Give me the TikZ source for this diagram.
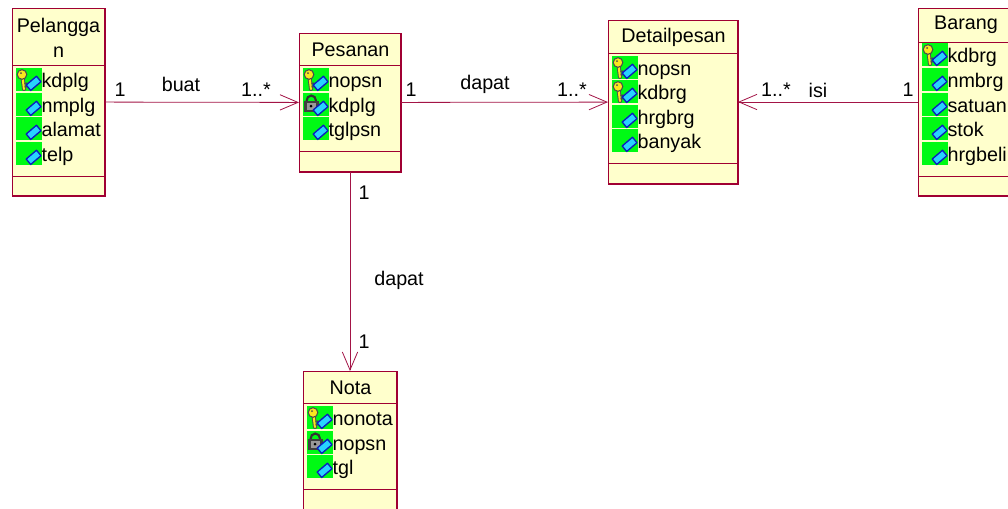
\documentclass[tikz,border=0pt]{standalone}
\usepackage{fontspec}
\setmainfont{Liberation Sans}
\usepackage{xcolor}
\definecolor{uml-line}{RGB}{163, 20, 70}
\definecolor{uml-edge}{RGB}{160, 0, 50}
\definecolor{uml-fill}{RGB}{255, 255, 204}
\definecolor{uml-green}{RGB}{0, 250, 20}
\definecolor{uml-cyan}{RGB}{40, 210, 255}
\definecolor{uml-blue}{RGB}{10, 30, 190}
\definecolor{uml-key}{RGB}{250, 230, 30}
\usetikzlibrary{arrows.meta,positioning,calc}

% baris atribut: nama, x, y, ikon, teks
\newcommand{\attrow}[5]{
    \fill [uml-green] (#2,#3) rectangle ++(26,23.4);
    \pic at (#2,#3) {#4};
    \pic at (#2,#3) {icon-attr};
    \node [attr-text] (#1) at (#2+25.3,#3+19.5) {#5};
}

\begin{document}
\begin{tikzpicture} [ % gaya setiap elemen
        x=0.75pt, y=-0.75pt, >={Straight Barb[length=13.5pt,width=11.5pt,line width=0.6pt]},
        font=\fontsize{14.8}{17}\selectfont,
        class-box/.style = {draw=uml-edge, fill=uml-fill, line width=0.7pt, inner sep=0pt, outer sep=0pt},
        plain/.style = {draw=none, inner sep=0pt, text=black},
        attr-text/.style = {plain, anchor=base west},
        relation/.style = {draw=uml-line, line width=0.6pt},
        divider/.style = {draw=uml-edge, line width=0.6pt},
        shadow-edge/.style = {draw=uml-edge, line width=1.2pt},
        icon-none/.pic = {},
        icon-attr/.pic = {
            \draw [uml-blue, fill=uml-cyan, line width=1pt, line join=round]
                (10.2,17) -- (20.5,8.2) -- (25,13.7) -- (14.7,22.5) -- cycle;
        },
        icon-key/.pic = {
            \draw [black!70, line width=3pt, line cap=round] (6.5,9) -- (8,21);
            \draw [uml-key, line width=1.6pt, line cap=round] (6.5,9) -- (8,21);
            \draw [black!70, fill=uml-key, line width=0.8pt] (6,6.5) circle (4.8);
            \fill [black!70] (5,5) circle (1);
            \draw [black!70, line width=1pt] (8.5,15.5) -- (11.5,15) (8.5,19) -- (11.5,18.5);
        },
        icon-lock/.pic = {
            \draw [black!80, line width=1.6pt] (3.5,8) arc (180:360:4.8 and 5.5);
            \fill [black!75] (1,7.5) rectangle (15.5,18.5);
            \fill [black!40] (3.5,9.5) rectangle (12.5,16.5);
            \fill [black] (8,13) circle (1.5);
        }
    ]

    \useasboundingbox (0,0) rectangle (1008,508);
    \fill [white] (0,0) rectangle (1008,508);

    % kelas
    \node [class-box, minimum width=93*0.75pt, minimum height=188*0.75pt] (pelanggan) at (58.5,102) {};
    \node [class-box, minimum width=102*0.75pt, minimum height=139*0.75pt] (pesanan) at (350,102.5) {};
    \node [class-box, minimum width=130*0.75pt, minimum height=164*0.75pt] (detailpesan) at (673,102) {};
    \node [class-box, minimum width=110*0.75pt, minimum height=188*0.75pt] (barang) at (973,102) {};
    \node [class-box, minimum width=94*0.75pt, minimum height=139*0.75pt] (nota) at (350,440.5) {};

    % tepi bayangan
    \draw [shadow-edge] (pelanggan.south west) -- (pelanggan.south east) -- (pelanggan.north east);
    \draw [shadow-edge] (pesanan.south west) -- (pesanan.south east) -- (pesanan.north east);
    \draw [shadow-edge] (detailpesan.south west) -- (detailpesan.south east) -- (detailpesan.north east);
    \draw [shadow-edge] (barang.south west) -- (barang.south east);
    \draw [shadow-edge] (nota.south east) -- (nota.north east);

    % garis pemisah
    \draw [divider] (pelanggan.west |- 0,65) -- (pelanggan.east |- 0,65);
    \draw [divider] (pelanggan.west |- 0,176) -- (pelanggan.east |- 0,176);
    \draw [divider] (pesanan.west |- 0,65) -- (pesanan.east |- 0,65);
    \draw [divider] (pesanan.west |- 0,151) -- (pesanan.east |- 0,151);
    \draw [divider] (detailpesan.west |- 0,53) -- (detailpesan.east |- 0,53);
    \draw [divider] (detailpesan.west |- 0,163) -- (detailpesan.east |- 0,163);
    \draw [divider] (barang.west |- 0,42) -- (barang.east |- 0,42);
    \draw [divider] (barang.west |- 0,176) -- (barang.east |- 0,176);
    \draw [divider] (nota.west |- 0,403) -- (nota.east |- 0,403);
    \draw [divider] (nota.west |- 0,489) -- (nota.east |- 0,489);

    % judul
    \node [plain] (pelanggan-t1) at (58.5,27) {Pelangga};
    \node [plain] (pelanggan-t2) at (58.5,52) {n};
    \node [plain] (pesanan-t) at (350.5,50) {Pesanan};
    \node [plain] (detailpesan-t) at (673.5,37) {Detailpesan};
    \node [plain] (barang-t) at (966,25) {Barang};
    \node [plain] (nota-t) at (350.5,388) {Nota};

    % atribut
    \attrow{a11}{16}{68}{icon-key}{kdplg}
    \attrow{a12}{16}{93}{icon-none}{nmplg}
    \attrow{a13}{16}{117}{icon-none}{alamat}
    \attrow{a14}{16}{142}{icon-none}{telp}

    \attrow{a21}{303}{68}{icon-key}{nopsn}
    \attrow{a22}{303}{93}{icon-lock}{kdplg}
    \attrow{a23}{303}{117}{icon-none}{tglpsn}

    \attrow{a31}{612}{56}{icon-key}{nopsn}
    \attrow{a32}{612}{80}{icon-key}{kdbrg}
    \attrow{a33}{612}{105}{icon-none}{hrgbrg}
    \attrow{a34}{612}{129}{icon-none}{banyak}

    \attrow{a41}{922}{43}{icon-key}{kdbrg}
    \attrow{a42}{922}{68}{icon-none}{nmbrg}
    \attrow{a43}{922}{93}{icon-none}{satuan}
    \attrow{a44}{922}{117}{icon-none}{stok}
    \attrow{a45}{922}{142}{icon-none}{hrgbeli}

    \attrow{a51}{307}{406}{icon-key}{nonota}
    \attrow{a52}{307}{431}{icon-lock}{nopsn}
    \attrow{a53}{307}{455}{icon-none}{tgl}

    % relasi
    \draw [relation, ->] (pelanggan) -- (pesanan);
    \draw [relation, ->] (pesanan) -- (detailpesan);
    \draw [relation, ->] (barang) -- (detailpesan);
    \draw [relation, ->] (pesanan) -- (nota);

    % label
    \node [plain] (l1) at (120,90) {1};
    \node [plain] (l2) at (181,84) {buat};
    \node [plain] (l3) at (256,90) {1..*};
    \node [plain] (l4) at (411,90) {1};
    \node [plain] (l5) at (485,84) {dapat};
    \node [plain] (l6) at (572,90) {1..*};
    \node [plain] (l7) at (776,90) {1..*};
    \node [plain] (l8) at (818,90) {isi};
    \node [plain] (l9) at (908,90) {1};
    \node [plain] (l10) at (364,193) {1};
    \node [plain] (l11) at (399,280) {dapat};
    \node [plain] (l12) at (364,342) {1};

\end{tikzpicture}
\end{document}
